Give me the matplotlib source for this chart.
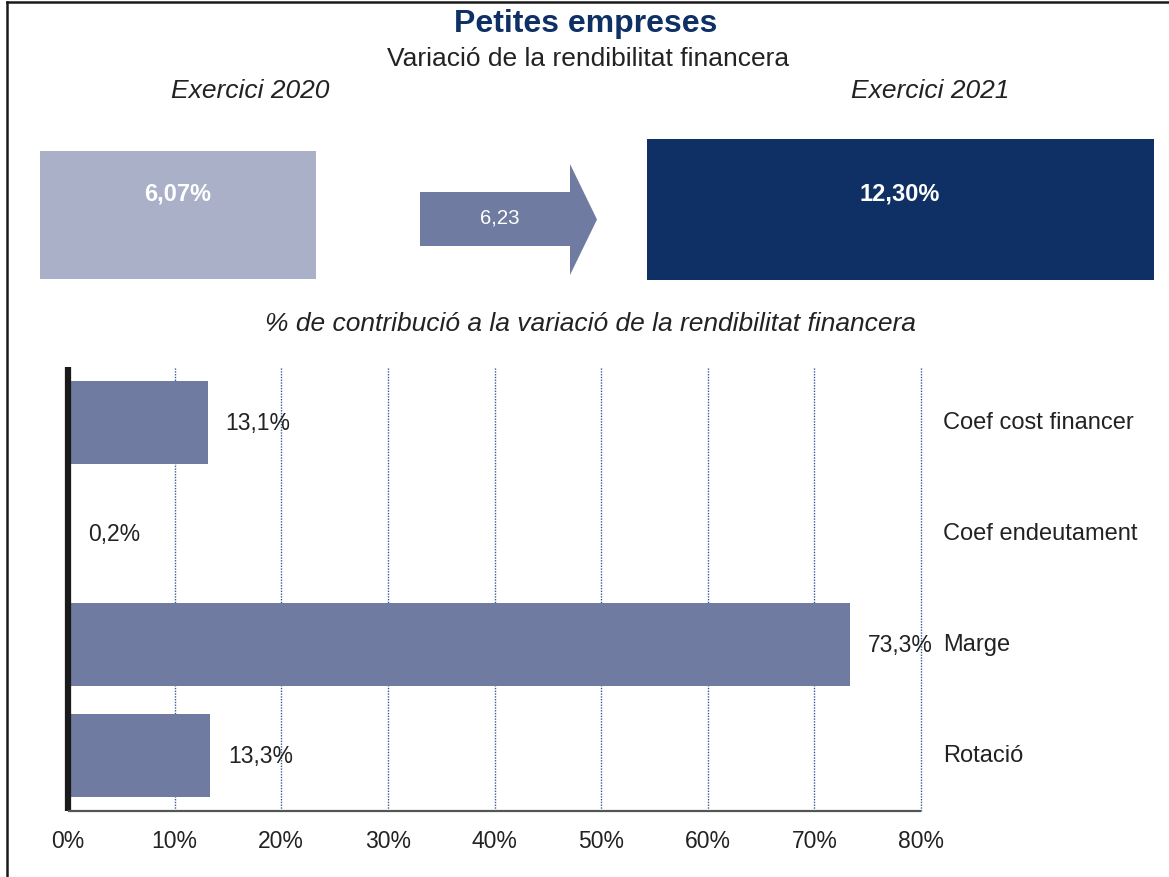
import matplotlib
matplotlib.use("Agg")
import matplotlib.pyplot as plt
from matplotlib.patches import Rectangle, Polygon
from matplotlib.lines import Line2D
import matplotlib.transforms as mtransforms

plt.rcParams['font.family'] = ['Liberation Sans', 'DejaVu Sans']

# data
categories = ['Coef cost financer', 'Coef endeutament', 'Marge', 'Rotació']
contribucio = [13.1, 0.2, 73.3, 13.3]
xticks = [0, 10, 20, 30, 40, 50, 60, 70, 80]
rend_2020 = 6.07
rend_2021 = 12.30
variacio = 6.23

dark = '#0E3065'
mid = '#6F7BA0'
light = '#A9B0C8'
txt = '#222222'

W, H = 1169, 878
fig = plt.figure(figsize=(W / 100, H / 100), dpi=100)

# overlay in pixel coords for the top part
ov = fig.add_axes([0, 0, 1, 1], zorder=0)
ov.set_xlim(0, W)
ov.set_ylim(H, 0)
ov.axis('off')

# outer frame (top and left only)
ov.add_line(Line2D([7, W], [3, 3], color='#1a1a1a', lw=1.8))
ov.add_line(Line2D([7, 7], [3, H], color='#1a1a1a', lw=1.8))

ov.text(586, 24, 'Petites empreses', ha='center', va='center', fontsize=23,
        fontweight='bold', color=dark)
ov.text(588, 59, 'Variació de la rendibilitat financera', ha='center', va='center',
        fontsize=19, color=txt)
ov.text(250, 91, 'Exercici 2020', ha='center', va='center', fontsize=19,
        style='italic', color=txt)
ov.text(930, 91, 'Exercici 2021', ha='center', va='center', fontsize=19,
        style='italic', color=txt)

def fmt(v, d):
    return f'{v:.{d}f}'.replace('.', ',')

ov.add_patch(Rectangle((40, 152), 276, 128, color=light, lw=0))
ov.text(178, 194, fmt(rend_2020, 2) + '%', ha='center', va='center', fontsize=17,
        fontweight='bold', color='white')

ov.add_patch(Polygon([(420, 193), (570, 193), (570, 165), (597, 220.5),
                      (570, 276), (570, 247), (420, 247)], closed=True,
                     color=mid, lw=0))
ov.text(500, 218, fmt(variacio, 2), ha='center', va='center', fontsize=14.7,
        color='white')

ov.add_patch(Rectangle((647, 140), 507, 141, color=dark, lw=0))
ov.text(900, 194, fmt(rend_2021, 2) + '%', ha='center', va='center', fontsize=17,
        fontweight='bold', color='white')

ov.text(590, 324, '% de contribució a la variació de la rendibilitat financera',
        ha='center', va='center', fontsize=19, style='italic', color=txt)

# bar chart
x0, x1 = 68, 921
yb, yt = 812, 368
ax = fig.add_axes([x0 / W, (H - yb) / H, (x1 - x0) / W, (yb - yt) / H], zorder=1)
ax.patch.set_alpha(0)

ypos = list(range(len(categories)))
ax.barh(ypos, contribucio, height=0.75, color=mid, zorder=2)
ax.set_ylim(len(categories) - 0.5, -0.5)
ax.set_xlim(0, 80)

for i, v in enumerate(contribucio):
    ax.annotate(fmt(v, 1) + '%', (v, i), xytext=(13, 0), textcoords='offset points',
                ha='left', va='center', fontsize=16.5, color=txt, zorder=3)

trans = mtransforms.blended_transform_factory(ax.transAxes, ax.transData)
for i, c in enumerate(categories):
    ax.text((943 - x0) / (x1 - x0), i, c, transform=trans, ha='left', va='center',
            fontsize=17, color=txt)

ax.set_xticks(xticks)
ax.set_xticklabels([f'{t}%' for t in xticks], fontsize=16.5, color=txt)
ax.tick_params(axis='x', length=0, pad=13)
ax.set_yticks([])
for t in xticks[1:]:
    ax.axvline(t, color='#3A5A95', lw=1.0, ls=(0, (1, 1)), zorder=1, clip_on=False)

ax.spines['top'].set_visible(False)
ax.spines['right'].set_visible(False)
ax.spines['left'].set_color('#1a1a1a')
ax.spines['left'].set_linewidth(4.5)
ax.spines['left'].set_capstyle('butt')
ax.spines['bottom'].set_color('#555555')
ax.spines['bottom'].set_linewidth(1.6)
ax.spines['bottom'].set_capstyle('butt')

fig.savefig('out.png', dpi=100)
